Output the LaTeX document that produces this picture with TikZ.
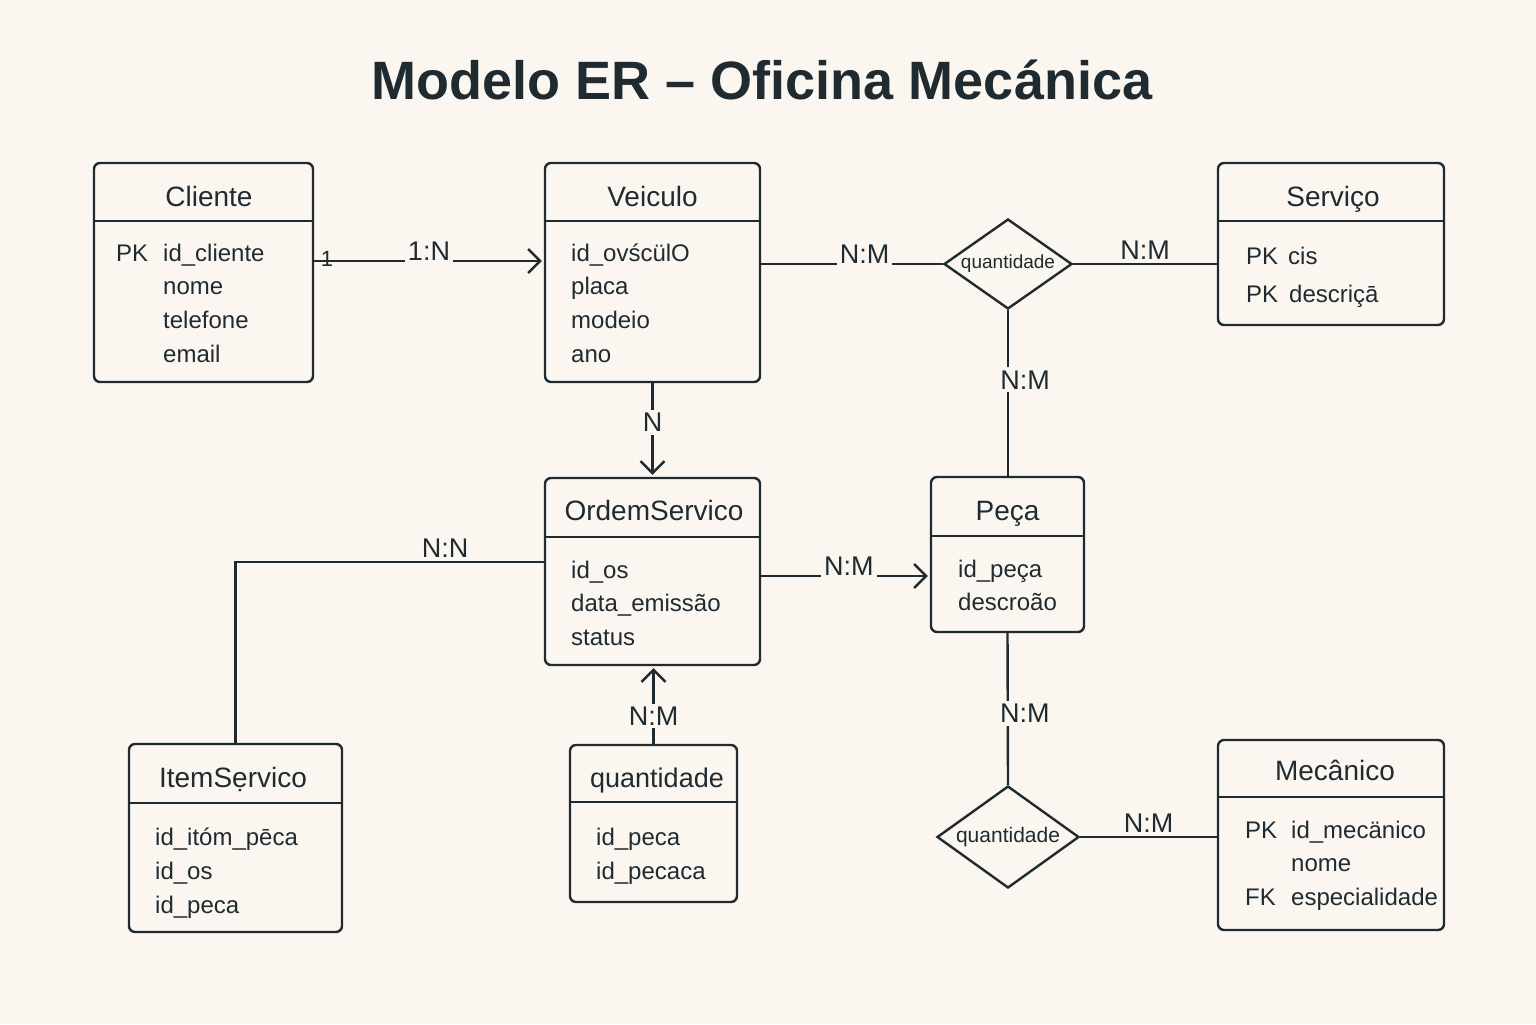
\documentclass[tikz,border=0pt]{standalone}
\usepackage{fontspec}
\setmainfont{Liberation Sans}
\definecolor{TintaER}{HTML}{1F2B31}
\definecolor{FundoER}{HTML}{FBF7F0}
\usetikzlibrary{arrows.meta}
\usetikzlibrary{shapes.geometric}
\usetikzlibrary{positioning}

\begin{document}
\begin{tikzpicture}
	[x=0.5pt, y=-0.5pt, color=TintaER, line width=1.2pt,
	entidade/.style = {draw, rectangle, rounded corners=3pt, inner sep=0pt},
	titulo/.style = {font=\fontsize{14}{16}\selectfont, text height=10pt, text depth=0pt, inner sep=0pt},
	atributo/.style = {anchor=west, font=\fontsize{12}{14}\selectfont, text height=9pt, text depth=0pt, inner sep=0pt},
	relacao/.style = {draw, diamond, aspect=1.42, inner sep=0pt},
	card/.style = {fill=FundoER, inner sep=1.5pt, font=\fontsize{13.5}{15}\selectfont},
	seta/.style = {-{Straight Barb[length=6pt,width=12pt]}, shorten >=1pt}]
	\fill[FundoER] (0,0) rectangle (1536,1024);
	\node[font=\fontsize{27}{30}\selectfont\bfseries] (Tit) at (762,80) {Modelo ER – Oficina Mecánica};
	% Cliente
	\node[entidade, minimum width=109.5pt, minimum height=109.5pt] (Cli) at (203.5,272.5) {};
	\draw ([yshift=-29.5pt]Cli.north west) -- ([yshift=-29.5pt]Cli.north east);
	\node[titulo] (CliT) at (209,196) {Cliente};
	\node[atributo] (CliPK) at (115,252) {PK};
	\foreach \a [count=\i] in {id\_cliente,nome,telefone,email}
		\node[atributo] (Cli\i) at (162,{252+33.7*(\i-1)}) {\a};
	% Veiculo
	\node[entidade, minimum width=107.5pt, minimum height=109.5pt] (Vei) at (652.5,272.5) {};
	\draw ([yshift=-29.5pt]Vei.north west) -- ([yshift=-29.5pt]Vei.north east);
	\node[titulo] (VeiT) at (652.5,196) {Veiculo};
	\foreach \a [count=\i] in {id\_ovścülO,placa,modeio,ano}
		\node[atributo] (Vei\i) at (570,{252+33.7*(\i-1)}) {\a};
	% Servico
	\node[entidade, minimum width=113pt, minimum height=81pt] (Svc) at (1331,244) {};
	\draw ([yshift=-29.5pt]Svc.north west) -- ([yshift=-29.5pt]Svc.north east);
	\node[titulo] (SvcT) at (1333,196) {Serviço};
	\node[atributo] (SvcPK1) at (1245,255) {PK};
	\node[atributo] (Svc1) at (1287,255) {cis};
	\node[atributo] (SvcPK2) at (1245,293) {PK};
	\node[atributo] (Svc2) at (1288,293) {descriçā};
	% OrdemServico
	\node[entidade, minimum width=107.5pt, minimum height=93.5pt] (Ord) at (652.5,571.5) {};
	\draw ([yshift=-30pt]Ord.north west) -- ([yshift=-30pt]Ord.north east);
	\node[titulo] (OrdT) at (654,510) {OrdemServico};
	\foreach \a [count=\i] in {id\_os,data\_emissão,status}
		\node[atributo] (Ord\i) at (570,{569+33.5*(\i-1)}) {\a};
	% Peca
	\node[entidade, minimum width=76.5pt, minimum height=77.5pt] (Pec) at (1007.5,554.5) {};
	\draw ([yshift=-30pt]Pec.north west) -- ([yshift=-30pt]Pec.north east);
	\node[titulo] (PecT) at (1007.5,510) {Peça};
	\foreach \a [count=\i] in {id\_peça,descroão}
		\node[atributo] (Pec\i) at (957,{568+33.5*(\i-1)}) {\a};
	% ItemServico
	\node[entidade, minimum width=106.5pt, minimum height=94pt] (Itm) at (235.5,838) {};
	\draw ([yshift=-30pt]Itm.north west) -- ([yshift=-30pt]Itm.north east);
	\node[titulo] (ItmT) at (233,777) {ItemSẹrvico};
	\foreach \a [count=\i] in {id\_itóm\_pēca,id\_os,id\_peca}
		\node[atributo] (Itm\i) at (154,{836+34*(\i-1)}) {\a};
	% quantidade (tabela)
	\node[entidade, minimum width=83.5pt, minimum height=78.5pt] (Qtd) at (653.5,823.5) {};
	\draw ([yshift=-29pt]Qtd.north west) -- ([yshift=-29pt]Qtd.north east);
	\node[titulo, font=\fontsize{13.5}{15}\selectfont] (QtdT) at (657,777) {quantidade};
	\foreach \a [count=\i] in {id\_peca,id\_pecaca}
		\node[atributo] (Qtd\i) at (595,{836+34*(\i-1)}) {\a};
	% Mecanico
	\node[entidade, minimum width=113pt, minimum height=95pt] (Mec) at (1331,835) {};
	\draw ([yshift=-29pt]Mec.north west) -- ([yshift=-29pt]Mec.north east);
	\node[titulo] (MecT) at (1335,770) {Mecânico};
	\node[atributo] (MecPK) at (1244,829) {PK};
	\node[atributo] (MecFK) at (1244,896) {FK};
	\foreach \a [count=\i] in {id\_mecänico,nome,especialidade}
		\node[atributo] (Mec\i) at (1290,{829+33.5*(\i-1)}) {\a};
	% relacoes
	\node[relacao, minimum width=64pt, minimum height=45pt, font=\fontsize{9.5}{11}\selectfont] (D1) at (1008,264) {quantidade};
	\node[relacao, aspect=1.39, minimum width=71pt, minimum height=51pt, font=\fontsize{10.5}{12}\selectfont] (D2) at (1008,837) {quantidade};
	% ligacoes
	\draw[seta] ([yshift=5.75pt]Cli.east) -- node[card, above, yshift=-2pt] (L1) {1:N} ([yshift=5.75pt]Vei.west);
	\node[font=\fontsize{11}{12}\selectfont, inner sep=0pt] (L1a) at (327,259) {1};
	\draw ([yshift=4.25pt]Vei.east) -- node[card, above, yshift=-2pt, pos=0.57] (L2) {N:M} (D1.west);
	\draw (D1.east) -- node[card, above] (L3) {N:M} (D1.east -| Svc.west);
	\draw (D1.south) -- node[card, pos=0.42, xshift=8.5pt] (L4) {N:M} (D1.south |- Pec.north);
	\draw[seta] (Vei.south) -- node[card, pos=0.42] (L5) {N} (Ord.north);
	\draw[seta] ([yshift=-2.25pt]Ord.east) -- node[card, above, yshift=-2pt, pos=0.52] (L6) {N:M} ([yshift=-10.75pt]Pec.west);
	\draw ([yshift=4.75pt]Ord.west) -| node[card, above, pos=0.16] (L7) {N:N} (Itm.north);
	\draw[seta] (Qtd.north) -- node[card, pos=0.36] (L8) {N:M} (Qtd.north |- Ord.south);
	\draw (Pec.south) -- node[card, pos=0.53, xshift=8.5pt] (L9) {N:M} (D2.north);
	\draw (D2.east) -- node[card, above] (L10) {N:M} (D2.east -| Mec.west);
\end{tikzpicture}
\end{document}
